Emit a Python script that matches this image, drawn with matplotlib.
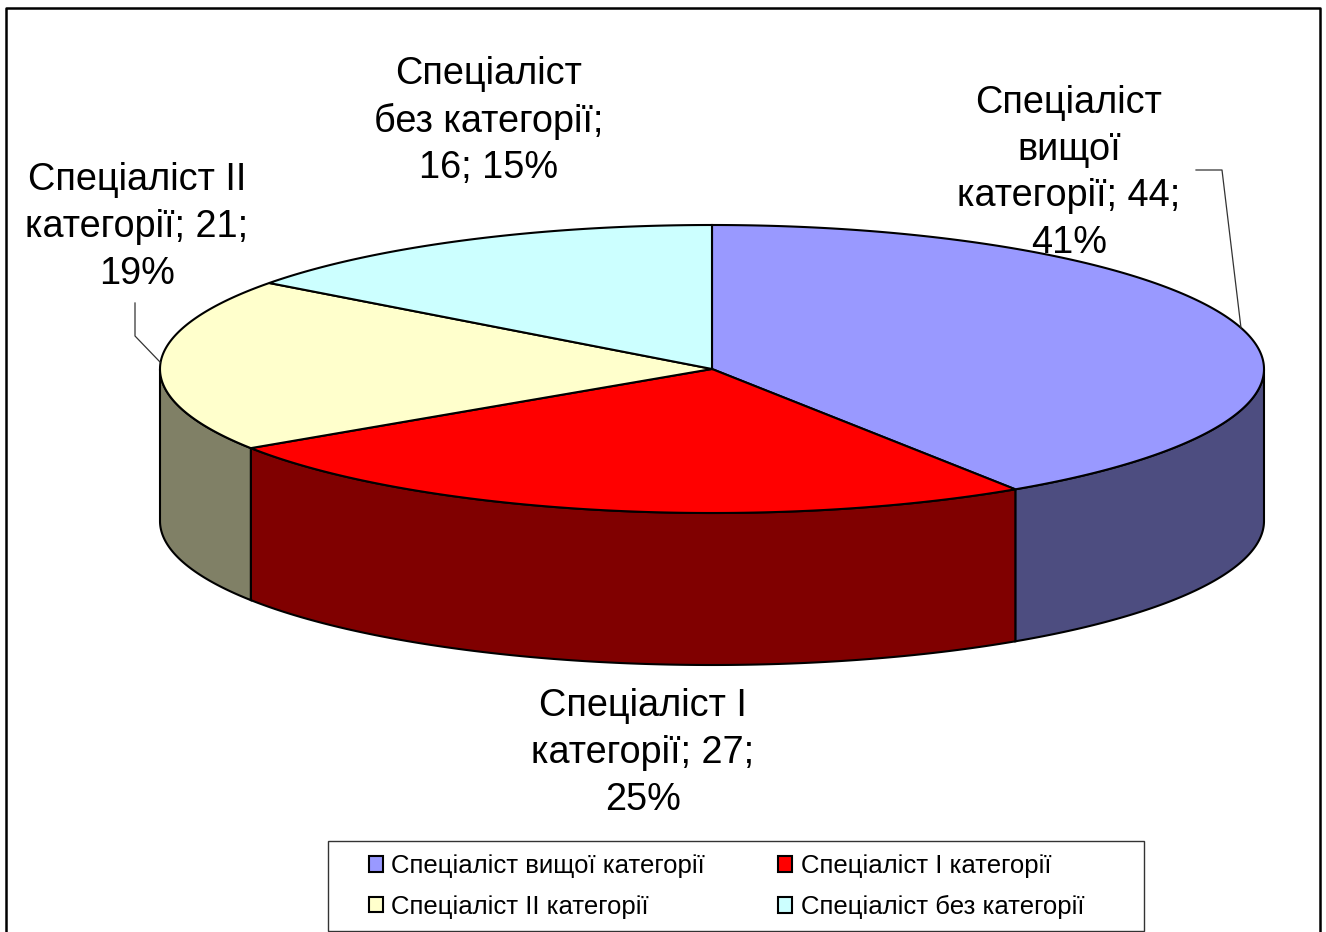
import matplotlib
matplotlib.use('Agg')
import matplotlib.pyplot as plt
from matplotlib.patches import Patch, Rectangle
import numpy as np

plt.rcParams['font.family'] = ['Liberation Sans', 'DejaVu Sans']

categories = ['Спеціаліст вищої категорії', 'Спеціаліст І категорії',
              'Спеціаліст ІІ категорії', 'Спеціаліст без категорії']
values = [44, 27, 21, 16]
percents = [41, 25, 19, 15]
top_colors = ['#9999FF', '#FF0000', '#FFFFCC', '#CCFFFF']
side_colors = ['#4D4D80', '#800000', '#808066', '#668080']

# pie geometry in pixels
cx, cy = 712, 369
rx, ry = 552, 144
depth = 152


def ell(a):
    return cx + rx * np.cos(a), cy - ry * np.sin(a)


fig = plt.figure(figsize=(13.26, 9.32), dpi=100)
ax = fig.add_axes([0, 0, 1, 1])
ax.set_xlim(0, 1326)
ax.set_ylim(932, 0)
ax.axis('off')

# outer frame
ax.plot([6, 6, 1320, 1320], [932, 8, 8, 932], color='black', lw=1.8)

fracs = np.array(values) / sum(values)
edges = np.pi / 2 - 2 * np.pi * np.concatenate([[0], np.cumsum(fracs)])

# walls first
for i in range(len(values)):
    a = np.linspace(edges[i], edges[i + 1], 300)
    a = a[np.sin(a) <= 0]
    if len(a) == 0:
        continue
    x, y = ell(a)
    ax.fill(np.r_[x, x[::-1]], np.r_[y, y[::-1] + depth],
            facecolor=side_colors[i], edgecolor='black', lw=1.5, zorder=2)

# top faces
for i in range(len(values)):
    a = np.linspace(edges[i], edges[i + 1], 300)
    x, y = ell(a)
    ax.fill(np.r_[cx, x], np.r_[cy, y], facecolor=top_colors[i],
            edgecolor='black', lw=1.5, zorder=3)

# data labels
lab = dict(fontsize=27.3, ha='center', va='center', color='black', zorder=5, linespacing=1.38)
ax.text(1069, 173, 'Спеціаліст\nвищої\nкатегорії; %d;\n%d%%' % (values[0], percents[0]), **lab)
ax.text(643, 753, 'Спеціаліст І\nкатегорії; %d;\n%d%%' % (values[1], percents[1]), **lab)
ax.text(137, 227, 'Спеціаліст ІІ\nкатегорії; %d;\n%d%%' % (values[2], percents[2]), **lab)
ax.text(489, 121, 'Спеціаліст\nбез категорії;\n%d; %d%%' % (values[3], percents[3]), **lab)

# leader lines
ax.plot([1196, 1222, 1241], [170, 170, 328], color='#333333', lw=0.9, zorder=4)
ax.plot([135, 135, 160], [303, 336, 362], color='#333333', lw=0.9, zorder=4)

# legend box drawn apart so the side padding can differ from the top one
ax.add_patch(Rectangle((328, 841), 816, 90, facecolor='white', edgecolor='#333333', lw=1, zorder=6))
order = [0, 2, 1, 3]
handles = [Patch(facecolor=top_colors[i], edgecolor='black', lw=1.5) for i in order]
leg = ax.legend(handles, [categories[i] for i in order], ncol=2, loc='center', fontsize=18.5,
                bbox_to_anchor=(726.5 / 1326, 1 - 886.5 / 932), frameon=False,
                handlelength=0.55, handleheight=0.55, handletextpad=0.33,
                columnspacing=2.85, labelspacing=0.65, borderpad=0)
leg.set_zorder(7)

plt.savefig('out.png', dpi=100)
